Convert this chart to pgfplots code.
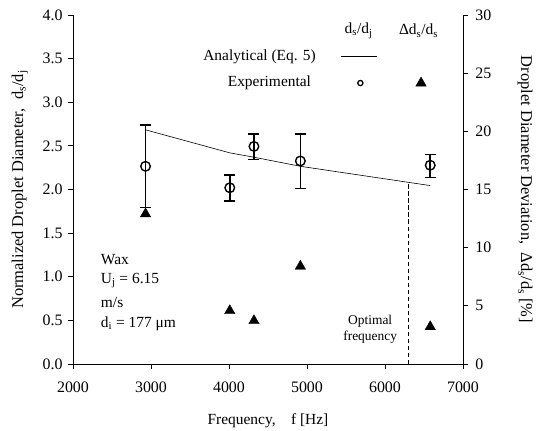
\documentclass[border=0pt]{standalone}
\usepackage{pgfplots}
\pgfplotsset{compat=1.18}
\usepackage{fontspec}
\setmainfont{Liberation Serif}

\begin{document}
\fontsize{15.5}{18}\selectfont
\begin{tikzpicture}
% fixed frame around the axis box (axis south west sits at the origin)
\path[use as bounding box] (-73bp,-67bp) rectangle (472bp,364bp);
\pgfplotsset{
  every axis/.append style={
    width=390bp, height=349bp, scale only axis,
    xmin=2000, xmax=7000,
    clip=false,
    tick align=outside,
    major tick length=5bp,
    axis line style={line width=0.8pt},
    tick style={line width=0.8pt, black},
    /pgf/number format/assume math mode=true,
    tick label style={font=\fontsize{16}{18}\selectfont},
  },
}
% left axis: normalized diameter
\begin{axis}[
  axis x line*=bottom, axis y line*=left,
  ymin=0, ymax=4, ytick={0,0.5,...,4.01},
  yticklabel style={/pgf/number format/.cd, fixed, fixed zerofill, precision=1},
  xtick={2000,3000,...,7000},
  xticklabel style={/pgf/number format/1000 sep={}, yshift=-8bp},
  xlabel={Frequency,\quad f [Hz]},
  xlabel style={at={(axis description cs:0.5,-0.162)}, anchor=center,
    font=\fontsize{15.5}{18}\selectfont},
  ylabel={Normalized Droplet Diameter,\ \ d\textsubscript{s}/d\textsubscript{j}},
  ylabel style={at={(axis description cs:-0.136,0.5)}, anchor=center,
    font=\fontsize{16.5}{18}\selectfont},
]
% analytical curve (Eq. 5)
\addplot[black, line width=0.6pt] coordinates {
  (2930,2.684) (4010,2.42) (4320,2.37) (4915,2.266) (6580,2.045)
};
% experimental d_s/d_j with scatter
\addplot[black, only marks, mark=o, mark size=4.8bp, line width=1.4pt,
  error bars/.cd, y dir=both, y explicit,
  error bar style={line width=1.6pt},
  error mark options={rotate=90, mark size=5.5bp, line width=1.6pt}]
coordinates {
  (2930,2.266) += (0,0.474) -= (0,0.471)
  (4010,2.020) += (0,0.143) -= (0,0.150)
  (4320,2.494) += (0,0.141) -= (0,0.148)
  (4915,2.327) += (0,0.308) -= (0,0.316)
  (6580,2.278) += (0,0.125) -= (0,0.141)
};
% optimal frequency marker
\addplot[black, line width=1.6pt, dash pattern=on 4.5bp off 2.5bp] coordinates {(6300,0) (6300,2.08)};
% legend entries
\addplot[black, line width=0.9pt] coordinates {(5430,3.52) (5900,3.52)};
\addplot[black, only marks, mark=o, mark size=2.6bp, line width=1.3pt] coordinates {(5684,3.22)};
\addplot[black, only marks, mark=triangle*, mark size=6bp] coordinates {(6462,3.22)};
\node[anchor=east] at (axis cs:5180,3.52) {Analytical (Eq. 5)};
\node[anchor=east] at (axis cs:5120,3.22) {Experimental};
\node at (axis cs:5662,3.82) {d\textsubscript{s}/d\textsubscript{j}};
\node at (axis cs:6430,3.82) {Δd\textsubscript{s}/d\textsubscript{s}};
% conditions
\node[anchor=west] at (axis cs:2290,1.20) {Wax};
\node[anchor=west] at (axis cs:2290,0.96) {U\textsubscript{j} = 6.15};
\node[anchor=west] at (axis cs:2290,0.71) {m/s};
\node[anchor=west] at (axis cs:2290,0.46) {d\textsubscript{i} = 177 μm};
\node[align=center, font=\fontsize{13.5}{16}\selectfont] at (axis cs:5810,0.40) {Optimal\\frequency};
\end{axis}
% right axis: deviation
\begin{axis}[
  axis x line=none, axis y line*=right,
  ymin=0, ymax=30, ytick={0,5,...,30},
  yticklabel style={xshift=2bp},
  ylabel={Droplet Diameter Deviation,\ \ Δd\textsubscript{s}/d\textsubscript{s} [\%]},
  ylabel style={at={(axis description cs:1.159,0.5)}, anchor=center,
    rotate=180, font=\fontsize{16.5}{18}\selectfont},
]
\addplot[black, only marks, mark=triangle*, mark size=6bp] coordinates {
  (2930,12.9) (4010,4.58) (4320,3.72) (4915,8.4) (6580,3.2)
};
\end{axis}
\end{tikzpicture}
\end{document}
